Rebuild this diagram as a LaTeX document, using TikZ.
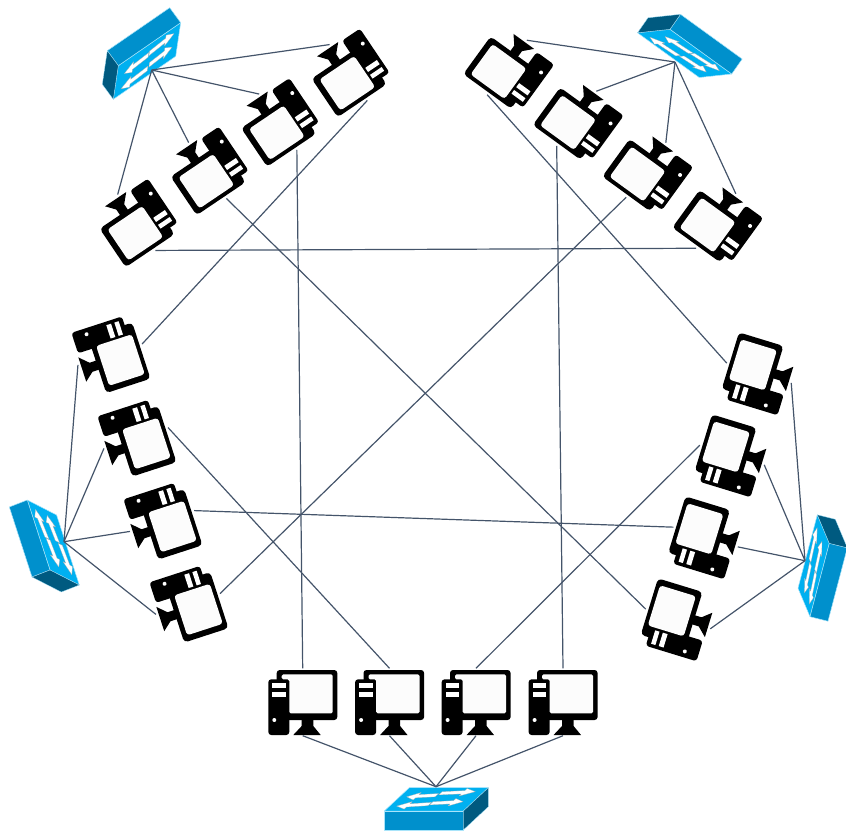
\documentclass[tikz,border=0pt]{standalone}
\definecolor{swbright}{HTML}{00B0F0}
\definecolor{swfront}{HTML}{0090CC}
\definecolor{swdark}{HTML}{005A80}
\definecolor{swedge}{HTML}{A8E4FA}
\definecolor{linkcol}{HTML}{44546A}
\definecolor{screen}{HTML}{FCFCFC}
\tikzset{
  link/.style={draw=linkcol,line width=1.2pt},
  computer/.pic={
    \fill[black,rounded corners=3pt] (-26,-32) rectangle (34.6,18);
    \fill[black,rounded corners=3pt] (-34.4,-22.7) rectangle (-13.4,33);
    \fill[black] (-1,18)--(-1,24)--(-9.4,33)--(18,33)--(10.6,24)--(10.6,18)--cycle;
    \fill[screen,rounded corners=1.5pt] (-13.4,11.3)--(30,11.3)--(30,-27.7)--(-21,-27.7)--(-21,-22.7)--(-13.4,-22.7)--cycle;
    \fill[white] (-30.4,-18.7) rectangle (-17,-14.3);
    \fill[white] (-30.4,-10.3) rectangle (-17,-5.3);
    \fill[white] (-28.4,18) circle (2);
    \coordinate (-up) at (0,-33.7);
    \coordinate (-dn) at (0,33.7);
  },
  pics/computerrot/.style={code={
    \begin{scope}[xshift=#1pt]
    \fill[black,rounded corners=4pt] (-26,-31) rectangle (33,15.5);
    \fill[black,rounded corners=3pt] (-35,-23) rectangle (-13.5,30);
    \fill[black] (-1,15)--(-1,22)--(-9.5,31)--(16,31)--(8.5,22)--(8.5,15)--cycle;
    \fill[screen,rounded corners=3pt] (-15,10.5)--(27,10.5)--(27,-27)--(-15,-27)--cycle;
    \fill[white] (-31.5,-18.5) rectangle (-17.5,-14);
    \fill[white] (-31.5,-10.5) rectangle (-17.5,-5.5);
    \fill[white] (-29,16) circle (2);
    \end{scope}
    \coordinate (-up) at (0,-33.7);
    \coordinate (-dn) at (0,33.7);
  }}
}
\newcommand\swarr[4]{%
  \pgfmathsetmacro\sn{#3+(#1-#3)*.35}%
  \pgfmathsetmacro\tn{#4+(#2-#4)*.35}%
  \fill[white,draw=black!35,line width=.2pt] (#1,#2-.07,0)--(\sn,\tn-.07,0)--(\sn,\tn-.16,0)--(#3,#4,0)--(\sn,\tn+.16,0)--(\sn,\tn+.07,0)--(#1,#2+.07,0)--cycle;%
}
\newcommand\swtch[8]{%
  \begin{scope}[shift={(#1,#2)},x={(#3pt,-#4pt)},y={(#5pt,-#6pt)},z={(#7pt,-#8pt)},line join=round]
    \filldraw[fill=swbright,draw=swedge,line width=.5pt] (0,0,0)--(1,0,0)--(1,1,0)--(0,1,0)--cycle;
    \filldraw[fill=swfront,draw=swedge,line width=.5pt] (0,0,0)--(1,0,0)--(1,0,1)--(0,0,1)--cycle;
    \filldraw[fill=swdark,draw=swedge,line width=.3pt] (1,0,0)--(1,1,0)--(1,1,1)--(1,0,1)--cycle;
    \swarr{.45}{.68}{.09}{.61}
    \swarr{.47}{.76}{.89}{.83}
    \swarr{.48}{.30}{.09}{.21}
    \swarr{.49}{.33}{.87}{.40}
  \end{scope}%
}
\begin{document}
\begin{tikzpicture}[x=1pt,y=-1pt]
\useasboundingbox (0,0) rectangle (846,830);
% switches
\swtch{384.3}{811}{79}{0}{25}{-23.3}{0}{19}
\swtch{180.7}{22.7}{-62.4}{43}{-5}{33.6}{-11}{-15}
\swtch{731.7}{74}{-61.7}{-44.7}{-32.5}{3.5}{10.5}{-15}
\swtch{27.3}{500}{22.7}{70}{29.3}{15}{-18}{7}
\swtch{810}{616.7}{19.3}{-73.4}{-12}{-28.5}{18}{4.5}
\coordinate (swB) at (436,786.7);
\coordinate (swTL) at (151.7,70);
\coordinate (swTR) at (675,62);
\coordinate (swL) at (64,541.7);
\coordinate (swR) at (805,560.7);
% computers
\pic (b1) at (302.7,702) {computer};
\pic (b2) at (389.5,702) {computer};
\pic (b3) at (476,702) {computer};
\pic (b4) at (563,702) {computer};
\pic[rotate=-72] (l1) at (110,354.5) {computerrot=2.5};
\pic[rotate=-72] (l2) at (136,438) {computerrot=2.5};
\pic[rotate=-72] (l3) at (162,521) {computerrot=2.5};
\pic[rotate=-72] (l4) at (188,604) {computerrot=2.5};
\pic[rotate=73] (r1) at (759,373) {computerrot=0};
\pic[rotate=73] (r2) at (732,455) {computerrot=0};
\pic[rotate=73] (r3) at (705.5,537) {computerrot=0};
\pic[rotate=73] (r4) at (678,619) {computerrot=0};
\pic[rotate=-146] (tl1) at (136.5,222.5) {computerrot=1};
\pic[rotate=-146] (tl2) at (207.5,170.5) {computerrot=1};
\pic[rotate=-146] (tl3) at (278,122) {computerrot=1};
\pic[rotate=-146] (tl4) at (348.5,72.5) {computerrot=1};
\pic[rotate=144] (tr1) at (507,67.5) {computerrot=-1.5};
\pic[rotate=144] (tr2) at (576.5,118.5) {computerrot=-1.5};
\pic[rotate=144] (tr3) at (646,170) {computerrot=-1.5};
\pic[rotate=144] (tr4) at (716,221) {computerrot=-1.5};
% links to switches
\foreach \n in {b1,b2,b3,b4} \draw[link] (swB)--(\n-dn);
\foreach \n in {l1,l2,l3,l4} \draw[link] (swL)--(\n-dn);
\foreach \n in {r1,r2,r3,r4} \draw[link] (swR)--(\n-dn);
\foreach \n in {tl1,tl2,tl3,tl4} \draw[link] (swTL)--(\n-dn);
\foreach \n in {tr1,tr2,tr3,tr4} \draw[link] (swTR)--(\n-dn);
% cross links
\draw[link] (tl1-up)--(tr4-up);
\draw[link] (tl2-up)--(r4-up);
\draw[link] (tl3-up)--(b1-up);
\draw[link] (tl4-up)--(l1-up);
\draw[link] (tr1-up)--(r1-up);
\draw[link] (tr2-up)--(b4-up);
\draw[link] (tr3-up)--(l4-up);
\draw[link] (l2-up)--(b2-up);
\draw[link] (l3-up)--(r3-up);
\draw[link] (r2-up)--(b3-up);
\end{tikzpicture}
\end{document}
